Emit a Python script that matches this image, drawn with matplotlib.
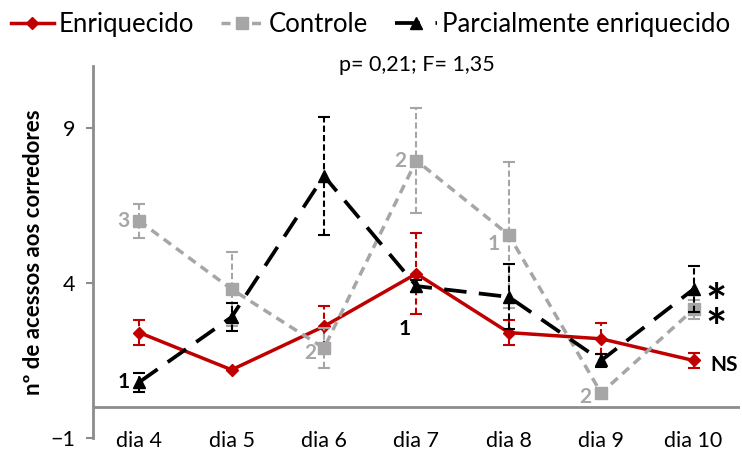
import numpy as np
import matplotlib
matplotlib.use("Agg")
import matplotlib.pyplot as plt
from matplotlib.lines import Line2D

plt.rcParams['font.family'] = ['Lato', 'DejaVu Sans']

dias = ["dia 4", "dia 5", "dia 6", "dia 7", "dia 8", "dia 9", "dia 10"]

enriquecido = [2.4, 1.2, 2.6, 4.3, 2.4, 2.2, 1.5]
enriquecido_err = [0.4, 0.0, 0.65, 1.3, 0.4, 0.5, 0.25]

controle = [6.0, 3.8, 1.9, 7.95, 5.55, 0.45, 3.15]
controle_err = [0.55, 1.2, 0.65, 1.7, 2.35, 0.0, 0.3]

parcial = [0.8, 2.9, 7.45, 3.9, 3.55, 1.5, 3.8]
parcial_err = [0.3, 0.45, 1.9, 0.2, 1.05, 0.2, 0.75]

RED = "#C00000"
GRAY = "#A6A6A6"
BLACK = "#000000"
AXIS = "#8C8C8C"

x = np.arange(len(dias))

fig = plt.figure(figsize=(7.42, 4.51), dpi=100)
ax = fig.add_axes([0.1253, 0.0288, 0.8717, 0.825])


def serie(y, err, color, marker, ms, lw, z):
    eb = ax.errorbar(x, y, yerr=err, color=color, ecolor=color, elinewidth=1.5,
                     capsize=4, capthick=1.5, linewidth=lw,
                     marker=marker, markersize=ms, zorder=z)
    for col in eb[2]:
        col.set_linestyle((0, (3, 1.5)))
    return eb


serie(enriquecido, enriquecido_err, RED, "D", 6, 2.5, 3)
gl = serie(controle, controle_err, GRAY, "s", 8, 2.5, 4)
gl[0].set_dashes((2.6, 1.8))
bl = serie(parcial, parcial_err, BLACK, "^", 8, 2.7, 5)
bl[0].set_dashes((6, 3.3))

ax.set_xlim(-0.5, 6.5)
ax.set_ylim(-1, 11)
ax.set_yticks([-1, 4, 9])
ax.set_xticks(x)
ax.set_xticklabels(dias)
ax.tick_params(axis='x', length=0, labelsize=15.5, pad=-5)
ax.tick_params(axis='y', length=5, width=1.5, color=AXIS, labelsize=15.5, pad=8)
for s in ["top", "right", "bottom"]:
    ax.spines[s].set_visible(False)
ax.spines["left"].set_color(AXIS)
ax.spines["left"].set_linewidth(2)
ax.axhline(0, color=AXIS, lw=2, zorder=1)

ax.set_ylabel("nº de acessos aos corredores", fontsize=16, fontweight="bold", labelpad=4)

# anotacoes: (serie, indice, texto, cor, dx, dy) em pixels
notas = [
    (controle, 0, "3", GRAY, -16, 0),
    (parcial, 0, "1", BLACK, -16, 0),
    (controle, 2, "2", GRAY, -14, -5),
    (parcial, 3, "1", BLACK, -12, -43),
    (controle, 3, "2", GRAY, -16, 0),
    (controle, 4, "1", GRAY, -15, -9),
    (controle, 5, "2", GRAY, -16, -4),
]
for serie_y, i, txt, cor, dx, dy in notas:
    ax.annotate(txt, (x[i], serie_y[i]), xytext=(dx * 0.72, dy * 0.72),
                textcoords="offset points", ha="center", va="center",
                fontsize=15, fontweight="bold", color=cor)

for serie_y, dy in ((parcial, -31), (controle, -36)):
    ax.annotate("*", (x[6], serie_y[6]), xytext=(23 * 0.72, dy * 0.72),
                textcoords="offset points", ha="center", va="baseline",
                fontsize=36, fontweight="bold", color=BLACK)
ax.annotate("NS", (x[6], enriquecido[6]), xytext=(17 * 0.72, -5 * 0.72),
            textcoords="offset points", ha="left", va="center",
            fontsize=15, fontweight="bold", color=BLACK)

fig.text(0.562, 0.855, "p= 0,21; F= 1,35", ha="center", va="center", fontsize=15.5)

handles = [
    Line2D([], [], color=RED, lw=2.5, marker="D", ms=6),
    Line2D([], [], color=GRAY, lw=2.5, marker="s", ms=8, dashes=(2.6, 1.8)),
    Line2D([], [], color=BLACK, lw=2.7, marker="^", ms=8, dashes=(6.6, 4.2, 0.8, 4.5)),
]
fig.legend(handles, ["Enriquecido", "Controle", "Parcialmente enriquecido"],
           loc="upper left", bbox_to_anchor=(-0.016, 1.025), ncol=3, frameon=False,
           fontsize=18.5, handlelength=1.65, handletextpad=0.2, columnspacing=1.05)

fig.savefig("out.png", dpi=100)
